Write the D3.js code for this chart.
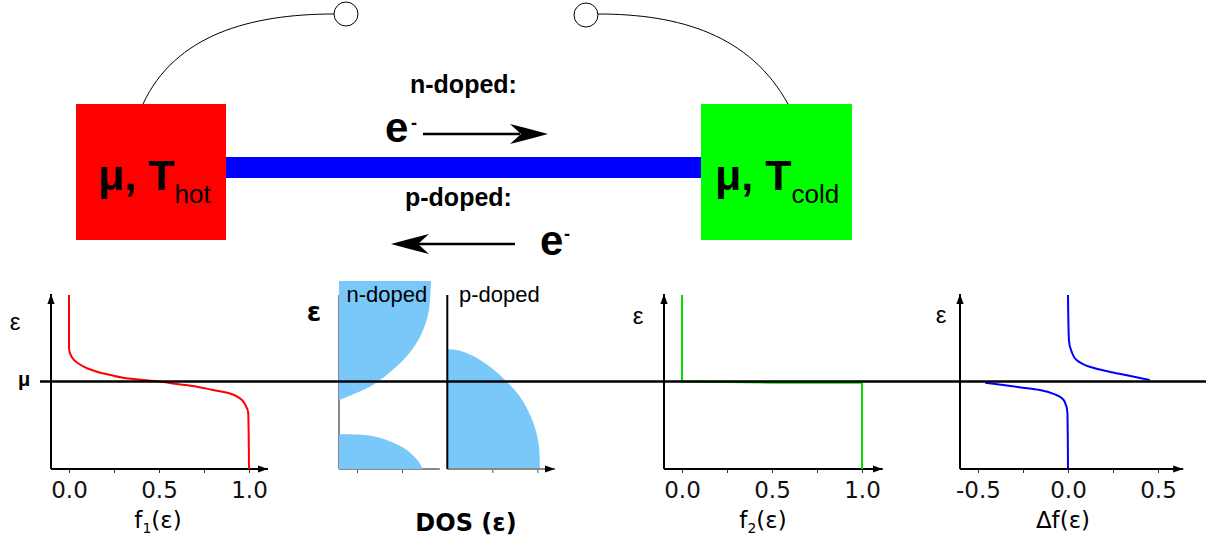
<!DOCTYPE html>
<html><head><meta charset="utf-8">
<script src="https://cdn.jsdelivr.net/npm/d3@7"></script>
<style>body{margin:0;background:#fff;} svg{display:block;}</style>
</head><body>
<svg id="c" width="1219" height="550"></svg>
<script>
// ---------- data (energy relative to mu; axis spans -1 .. 1) ----------
const f1Energy = [0.99, 0.383, 0.28, 0.208, 0.151, 0.112, 0.074, 0.043, 0.017, -0.002, -0.029, -0.059, -0.097, -0.135, -0.192, -0.269, -0.363, -1.0];
const f1Values = [0, 0, 0.015, 0.05, 0.10, 0.155, 0.23, 0.30, 0.41, 0.51, 0.60, 0.71, 0.80, 0.89, 0.95, 0.98, 0.996, 1.0];

const f2Energy = [0.99, 0, -0.014, -0.014, -1.0];
const f2Values = [0, 0, 0.5, 1, 1];

const dfUpperEnergy = [0.989, 0.474, 0.341, 0.246, 0.169, 0.112, 0.074, 0.048, 0.017];
const dfUpperValues = [0, 0.005, 0.02, 0.047, 0.12, 0.23, 0.32, 0.38, 0.454];
const dfLowerEnergy = [-0.014, -0.04, -0.066, -0.097, -0.154, -0.231, -0.363, -1.0];
const dfLowerValues = [-0.46, -0.36, -0.27, -0.157, -0.065, -0.018, -0.003, 0];

const dosNUpperEnergy = [1.149, 0.837, 0.646, 0.455, 0.265, 0.074, -0.002, -0.078, -0.154, -0.211];
const dosNUpperValues = [1.022, 1.003, 0.956, 0.870, 0.733, 0.530, 0.43, 0.308, 0.141, 0];
const dosNLowerEnergy = [-0.603, -0.606, -0.623, -0.649, -0.726, -0.802, -0.897, -0.992, -1.0];
const dosNLowerValues = [0.0, 0.20, 0.367, 0.47, 0.659, 0.778, 0.870, 0.930, 0.935];
const dosPEnergy = [0.368, 0.352, 0.291, 0.169, 0.017, -0.174, -0.363, -0.554, -0.745, -1.0];
const dosPValues = [0.0, 0.141, 0.289, 0.474, 0.641, 0.808, 0.911, 0.982, 1.019, 1.03];

const fMajorTicks = [0, 0.5, 1.0];
const fMinorTicks = [0.25, 0.75];
const dfMajorTicks = [-0.5, 0, 0.5];
const dfMinorTicks = [-0.25, 0.25];
const dosNTicks = [0.2, 0.7];
const dosPTicks = [0.5, 1.0];

// ---------- setup ----------
const svg = d3.select("#c");
const FA = "'Liberation Sans', Arial, sans-serif";
const FD = "'DejaVu Sans', sans-serif";
const zip = (e, v) => e.map((d, i) => ({e: d, v: v[i]}));

const defs = svg.append("defs");
defs.append("marker").attr("id", "ah").attr("markerUnits", "userSpaceOnUse")
  .attr("markerWidth", 12).attr("markerHeight", 10).attr("refX", 10).attr("refY", 0)
  .attr("viewBox", "0 -5 12 10").attr("orient", "auto")
  .append("path").attr("d", "M0,-3.6L10,0L0,3.6Z").attr("fill", "#000");

// ---------- top schematic ----------
const topG = svg.append("g");
topG.append("path").attr("d", "M143,104 C175,35 250,14 334,14").attr("fill", "none").attr("stroke", "#000").attr("stroke-width", 1);
topG.append("path").attr("d", "M598,14 C680,14 750,35 788,104").attr("fill", "none").attr("stroke", "#000").attr("stroke-width", 1);
topG.append("circle").attr("cx", 346).attr("cy", 14).attr("r", 12).attr("fill", "#fff").attr("stroke", "#000").attr("stroke-width", 1);
topG.append("circle").attr("cx", 586).attr("cy", 15).attr("r", 12).attr("fill", "#fff").attr("stroke", "#000").attr("stroke-width", 1);
topG.append("rect").attr("x", 226).attr("y", 157).attr("width", 475).attr("height", 21).attr("fill", "#0000ff");
topG.append("rect").attr("x", 76).attr("y", 104).attr("width", 150).attr("height", 136).attr("fill", "#ff0000");
topG.append("rect").attr("x", 701).attr("y", 104).attr("width", 151).attr("height", 136).attr("fill", "#00ff00");

function boxLabel(x, sub) {
  const t = topG.append("text").attr("x", x).attr("y", 190).attr("font-family", FA).attr("fill", "#000");
  t.append("tspan").attr("font-size", 43).attr("font-weight", "bold").text("μ, T");
  t.append("tspan").attr("font-size", 26).attr("dy", 13).text(sub);
}
boxLabel(98, "hot");
boxLabel(715, "cold");

topG.append("text").attr("x", 410).attr("y", 93).attr("font-family", FA).attr("font-size", 25).attr("font-weight", "bold").text("n-doped:");
topG.append("text").attr("x", 405).attr("y", 206).attr("font-family", FA).attr("font-size", 25).attr("font-weight", "bold").text("p-doped:");
topG.append("text").attr("x", 385).attr("y", 142).attr("font-family", FA).attr("font-size", 42).attr("font-weight", "bold").text("e");
topG.append("text").attr("x", 411).attr("y", 129).attr("font-family", FA).attr("font-size", 18).attr("font-weight", "bold").text("-");
topG.append("text").attr("x", 540).attr("y", 255).attr("font-family", FA).attr("font-size", 42).attr("font-weight", "bold").text("e");
topG.append("text").attr("x", 564).attr("y", 240).attr("font-family", FA).attr("font-size", 18).attr("font-weight", "bold").text("-");
topG.append("line").attr("x1", 423).attr("x2", 520).attr("y1", 134).attr("y2", 134).attr("stroke", "#000").attr("stroke-width", 2.7);
topG.append("path").attr("d", "M548,134 Q530,129 510,124 L521,134 L510,144 Q530,139 548,134Z").attr("fill", "#000");
topG.append("line").attr("x1", 418).attr("x2", 515).attr("y1", 244).attr("y2", 244).attr("stroke", "#000").attr("stroke-width", 2.7);
topG.append("path").attr("d", "M391,244 Q409,239 429,234 L418,244 L429,254 Q409,249 391,244Z").attr("fill", "#000");

// ---------- bottom panels ----------
const yE = d3.scaleLinear().domain([-1, 1]).range([469, 294]);
const y0 = yE(-1);

function axisFrame(xS, xMin, xMax, major, minor, fmt, opts = {}) {
  const g = svg.append("g");
  g.append("g").attr("transform", `translate(0,${y0})`)
    .call(d3.axisBottom(xS).tickValues(minor).tickSize(4).tickFormat(""))
    .call(a => a.select(".domain").remove())
    .call(a => a.selectAll("line").attr("stroke", opts.tickColor || "#333").attr("stroke-width", 1));
  const ax = g.append("g").attr("transform", `translate(0,${y0})`)
    .call(d3.axisBottom(xS).tickValues(major).tickSize(4).tickFormat(fmt))
    .call(a => a.select(".domain").remove());
  ax.selectAll("line").attr("stroke", opts.tickColor || "#333").attr("stroke-width", 1);
  ax.selectAll("text").attr("dy", null).attr("y", 29).attr("font-family", FD).attr("font-size", 23).attr("fill", "#111");
  g.append("line").attr("x1", xS(xMin)).attr("x2", xS(xMax)).attr("y1", y0).attr("y2", y0)
    .attr("stroke", opts.xColor || "#000").attr("stroke-width", 2)
    .attr("marker-end", opts.noXArrow ? null : "url(#ah)");
  g.append("line").attr("x1", xS(xMin)).attr("x2", xS(xMin)).attr("y1", y0).attr("y2", opts.yTop || 294)
    .attr("stroke", opts.yColor || "#000").attr("stroke-width", 2)
    .attr("marker-end", opts.noYArrow ? null : "url(#ah)");
  return g;
}

const fmt1 = d3.format(".1f");
const fmtSigned = d => d3.format(".1f")(d).replace("−", "-");

const x1 = d3.scaleLinear().domain([0, 1]).range([69, 249]);
axisFrame(x1, -0.1, 1.105, fMajorTicks, fMinorTicks, fmt1);
const x3 = d3.scaleLinear().domain([0, 1]).range([682, 862]);
axisFrame(x3, -0.1, 1.115, fMajorTicks, fMinorTicks, fmt1);
const x4 = d3.scaleLinear().domain([-0.5, 0.5]).range([978, 1158]);
axisFrame(x4, -0.6, 0.64, dfMajorTicks, dfMinorTicks, fmtSigned);

const xN = d3.scaleLinear().domain([0, 1]).range([339, 429]);
const xP = d3.scaleLinear().domain([0, 1]).range([447.3, 537.3]);
const area = xS => d3.area().y(d => yE(d.e)).x0(xS(0)).x1(d => xS(d.v)).curve(d3.curveCatmullRom.alpha(0.5));
const blue = "#7ac8fa";

axisFrame(xN, 0, 1.12, dosNTicks, [], "", {xColor: "#888", yColor: "#888", noXArrow: true, noYArrow: true, yTop: 295, tickColor: "#555"});
svg.append("path").datum(zip(dosNUpperEnergy, dosNUpperValues)).attr("d", area(xN)).attr("fill", blue);
svg.append("path").datum(zip(dosNLowerEnergy, dosNLowerValues)).attr("d", area(xN)).attr("fill", blue);
svg.append("path").datum(zip(dosPEnergy, dosPValues)).attr("d", area(xP)).attr("fill", blue);
axisFrame(xP, 0, 1.197, dosPTicks, [], "", {xColor: "#888", noYArrow: true, yTop: 295, tickColor: "#555"});

const lineOf = (xS, curve) => d3.line().x(d => xS(d.v)).y(d => yE(d.e)).curve(curve);
svg.append("path").datum(zip(f1Energy, f1Values)).attr("d", lineOf(x1, d3.curveMonotoneY))
  .attr("fill", "none").attr("stroke", "#ff0000").attr("stroke-width", 2);
svg.append("path").datum(zip(f2Energy, f2Values)).attr("d", lineOf(x3, d3.curveLinear))
  .attr("fill", "none").attr("stroke", "#00e000").attr("stroke-width", 2);
svg.append("path").datum(zip(dfUpperEnergy, dfUpperValues)).attr("d", lineOf(x4, d3.curveMonotoneY))
  .attr("fill", "none").attr("stroke", "#0000ff").attr("stroke-width", 2);
svg.append("path").datum(zip(dfLowerEnergy, dfLowerValues)).attr("d", lineOf(x4, d3.curveMonotoneY))
  .attr("fill", "none").attr("stroke", "#0000ff").attr("stroke-width", 2);

svg.append("line").attr("x1", 40).attr("x2", 1206).attr("y1", yE(0)).attr("y2", yE(0))
  .attr("stroke", "#000").attr("stroke-width", 2.6);

function lbl(x, y, txt, size, weight, family, anchor) {
  return svg.append("text").attr("x", x).attr("y", y).attr("font-family", family || FA)
    .attr("font-size", size).attr("font-weight", weight || "normal")
    .attr("text-anchor", anchor || "middle").attr("fill", "#000").text(txt);
}
lbl(15, 330, "ε", 24);
lbl(24, 386, "μ", 20, "bold");
lbl(638, 324, "ε", 24);
lbl(941, 323, "ε", 24);
lbl(314, 321, "ε", 26, "bold", FD);
lbl(346.5, 301.5, "n-doped", 22, "normal", FA, "start");
lbl(459, 301.5, "p-doped", 22, "normal", FA, "start");
lbl(466, 531, "DOS (ε)", 24, "bold", FD);

function subLabel(x, pre, sub) {
  const t = svg.append("text").attr("x", x).attr("y", 528).attr("font-family", FD).attr("font-size", 23)
    .attr("text-anchor", "middle").attr("fill", "#000");
  t.append("tspan").text(pre);
  if (sub) {
    t.append("tspan").attr("font-size", 14).attr("dy", 5).text(sub);
    t.append("tspan").attr("dy", -5).text("(ε)");
  } else {
    t.append("tspan").text("(ε)");
  }
}
subLabel(158, "f", "1");
subLabel(763, "f", "2");
subLabel(1063, "Δf", null);
</script>
</body></html>
